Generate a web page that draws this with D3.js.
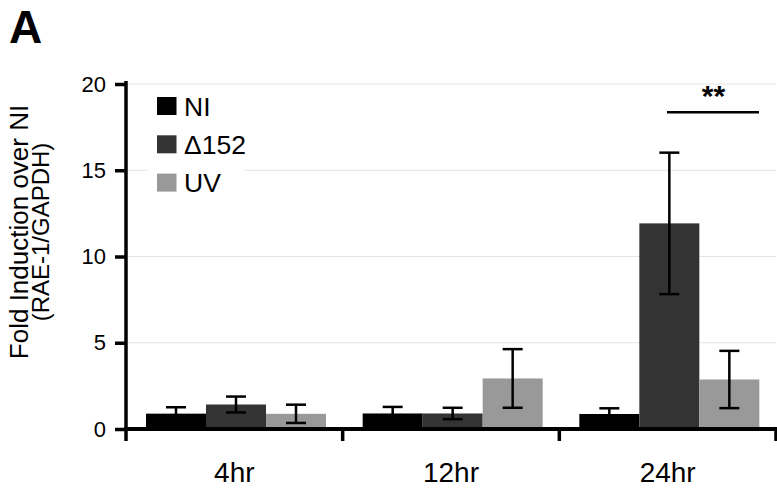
<!DOCTYPE html>
<html><head><meta charset="utf-8">
<script src="https://cdn.jsdelivr.net/npm/d3@7"></script>
<style>
html,body{margin:0;padding:0;background:#fff;}
svg{display:block;font-family:"Liberation Sans",Arial,sans-serif;}
</style></head>
<body>
<svg id="chart" width="777" height="488"></svg>
<script>
const categories = ["4hr", "12hr", "24hr"];
const seriesNames = ["NI", "\u0394152", "UV"];
const seriesColors = ["#000000", "#333333", "#999999"];
const niValues = [0.89, 0.90, 0.87];
const niErrors = [0.37, 0.38, 0.33];
const d152Values = [1.42, 0.90, 11.92];
const d152Errors = [0.46, 0.33, 4.10];
const uvValues = [0.88, 2.93, 2.87];
const uvErrors = [0.53, 1.70, 1.66];
const yTicks = [0, 5, 10, 15, 20];
const yTitleLines = ["Fold Induction over NI", "(RAE-1/GAPDH)"];
const panelLabel = "A";
const sigLabel = "**";

const values = [niValues, d152Values, uvValues];
const errors = [niErrors, d152Errors, uvErrors];
const data = [];
categories.forEach((c, ci) => seriesNames.forEach((s, si) => {
  data.push({cat: c, ser: s, si, v: values[si][ci], e: errors[si][ci]});
}));

const svg = d3.select("#chart");
const x0 = d3.scaleBand().domain(categories).range([126, 776]);
const x1 = d3.scaleBand().domain(seriesNames).range([20, 200]);
const y = d3.scaleLinear().domain([0, 20]).range([429, 84]);

// gridlines
svg.append("g").selectAll("line").data(yTicks.filter(t => t > 0)).join("line")
  .attr("x1", 128).attr("x2", 776)
  .attr("y1", d => y(d)).attr("y2", d => y(d))
  .attr("stroke", "#e4e4e4").attr("stroke-width", 1);

// legend background
svg.append("rect").attr("x", 148).attr("y", 89).attr("width", 96).attr("height", 110).attr("fill", "#fff");

// bars
svg.append("g").selectAll("rect").data(data).join("rect")
  .attr("x", d => x0(d.cat) + x1(d.ser))
  .attr("width", x1.bandwidth())
  .attr("y", d => y(d.v))
  .attr("height", d => y(0) - y(d.v))
  .attr("fill", d => seriesColors[d.si]);

// error bars
const eb = svg.append("g").attr("stroke", "#000").attr("stroke-width", 2.5);
data.forEach(d => {
  const cx = x0(d.cat) + x1(d.ser) + x1.bandwidth() / 2;
  eb.append("line").attr("x1", cx).attr("x2", cx).attr("y1", y(d.v + d.e)).attr("y2", y(d.v - d.e));
  [d.v + d.e, d.v - d.e].forEach(t => {
    eb.append("line").attr("x1", cx - 10).attr("x2", cx + 10).attr("y1", y(t)).attr("y2", y(t));
  });
});

// y axis
const yAxis = svg.append("g").attr("transform", "translate(126,0)")
  .call(d3.axisLeft(y).tickValues(yTicks).tickSize(11).tickPadding(9).tickFormat(d3.format("d")));
yAxis.select(".domain").remove();
yAxis.selectAll(".tick line").attr("stroke", "#000").attr("stroke-width", 3.5);
yAxis.selectAll(".tick text").attr("font-size", 22).attr("fill", "#000").attr("font-family", "Liberation Sans, Arial, sans-serif");
svg.append("line").attr("x1", 126).attr("x2", 126).attr("y1", 81).attr("y2", 441)
  .attr("stroke", "#000").attr("stroke-width", 3.5);

// x axis
svg.append("line").attr("x1", 124).attr("x2", 777).attr("y1", y(0)).attr("y2", y(0))
  .attr("stroke", "#000").attr("stroke-width", 4);
const bounds = categories.map(c => x0(c)).concat([x0.range()[1]]);
svg.append("g").selectAll("line").data(bounds.slice(1)).join("line")
  .attr("x1", d => d).attr("x2", d => d).attr("y1", y(0)).attr("y2", 441)
  .attr("stroke", "#000").attr("stroke-width", 3.5);
svg.append("g").selectAll("text").data(categories).join("text")
  .attr("x", d => x0(d) + x0.bandwidth() / 2).attr("y", 482)
  .attr("text-anchor", "middle").attr("font-size", 28).text(d => d);

// y title
const yt = svg.append("text").attr("transform", "translate(28,232) rotate(-90)")
  .attr("text-anchor", "middle").attr("font-size", 26);
yt.append("tspan").attr("x", 0).attr("y", 0).text(yTitleLines[0]);
yt.append("tspan").attr("x", 0).attr("y", 21).attr("font-size", 24).text(yTitleLines[1]);

// legend
const lg = svg.append("g");
seriesNames.forEach((s, i) => {
  lg.append("rect").attr("x", 157).attr("y", 97 + i * 38.3).attr("width", 19.5).attr("height", 18)
    .attr("fill", seriesColors[i]);
  lg.append("text").attr("x", 184).attr("y", 115.5 + i * 38.3).attr("font-size", 26.5).text(s);
});

// panel label
svg.append("text").attr("x", 9).attr("y", 43).attr("font-size", 46).attr("font-weight", "bold").text(panelLabel);

// significance
svg.append("line").attr("x1", 667).attr("x2", 759).attr("y1", 112.3).attr("y2", 112.3)
  .attr("stroke", "#000").attr("stroke-width", 2.5);
svg.append("text").attr("x", 713.5).attr("y", 106).attr("text-anchor", "middle")
  .attr("font-size", 30).attr("font-weight", "bold").text(sigLabel);
</script>
</body></html>
